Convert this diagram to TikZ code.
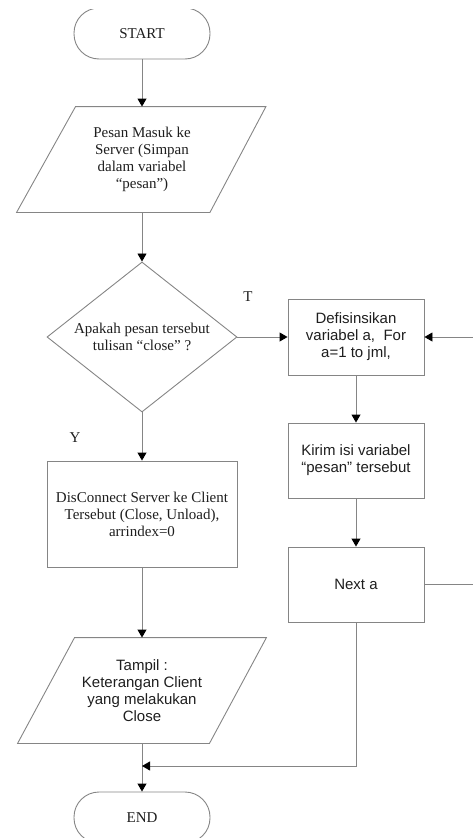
\documentclass[tikz,border=0pt]{standalone}
\usepackage{fontspec}
\setmainfont{Liberation Serif}
\newfontfamily\sansfam{Liberation Sans}
\usetikzlibrary{shapes.geometric,arrows.meta,calc}
\definecolor{edge}{HTML}{858585}
\definecolor{ink}{HTML}{1E1E1E}
\begin{document}
\begin{tikzpicture}[x=1pt,y=-1pt,
  base/.style={draw=edge, line width=0.9pt, text=ink, align=center, inner sep=0pt,
               font=\fontsize{15}{17}\selectfont},
  sanstxt/.style={font=\sansfam\fontsize{15}{17}\selectfont},
  term/.style={base, rectangle, rounded corners=25pt, minimum width=136pt, minimum height=51pt},
  proc/.style={base, rectangle, minimum width=136pt, minimum height=75pt},
  decision/.style={base, diamond, aspect=1.27, minimum width=190pt, minimum height=150pt},
  iobox/.style={base, draw=none, rectangle, minimum width=191pt, minimum height=105pt},
  shapeline/.style={draw=edge, line width=0.9pt},
  flow/.style={draw=edge, line width=0.9pt, -{Triangle[length=8pt,width=9pt,color=black]}},
  lbl/.style={text=ink, font=\fontsize{15}{17}\selectfont, inner sep=0pt}
]
\useasboundingbox (0,0) rectangle (473,838);
\begin{scope}
\clip (0,9.5) rectangle (473,838);

% terminals
\node[term] (start) at (142,33.5) {START};
\node[term] (end) at (142,817.5) {END};

% input: incoming message
\node[iobox] (in) at (142,159.5) {Pesan Masuk ke\\Server (Simpan\\dalam variabel\\“pesan”)};
\draw[shapeline] ($(in.north west)+(29.5,0)$) -- ($(in.north east)+(28,0)$)
  -- ($(in.south east)-(28,0)$) -- ($(in.south west)-(29.5,0)$) -- cycle;

% decision
\node[decision] (dec) at (142,337) {Apakah pesan tersebut\\tulisan “close” ?};

% close branch
\node[proc, minimum width=190pt, minimum height=106pt] (disc) at (142,514)
  {DisConnect Server ke Client\\Tersebut (Close, Unload),\\arrindex=0};
\node[iobox, sanstxt] (out) at (142,690.5) {Tampil :\\Keterangan Client\\yang melakukan\\Close};
\draw[shapeline] ($(out.north west)+(28.5,0)$) -- ($(out.north east)+(28.5,0)$)
  -- ($(out.south east)-(28.5,0)$) -- ($(out.south west)-(28.5,0)$) -- cycle;

% loop branch
\node[proc, sanstxt, minimum height=76pt] (def) at (356,337) {Defisinsikan\\variabel a,\ \ For\\a=1 to jml,};
\node[proc, sanstxt] (send) at (356,460.5) {Kirim isi variabel\\“pesan” tersebut};
\node[proc, sanstxt] (next) at (356,584.5) {Next a};

% branch labels
\node[lbl] (tlab) at (248,297) {T};
\node[lbl] (ylab) at (75,438) {Y};

\coordinate (merge) at (142,766);

% connectors
\draw[flow] (start) -- (in);
\draw[flow] (in) -- (dec);
\draw[flow] (dec.east) -- (def.west);
\draw[flow] (dec.south) -- (disc.north);
\draw[flow] (disc) -- (out);
\draw[flow] (out.south) -- (end.north);
\draw[flow] (def) -- (send);
\draw[flow] (send) -- (next);
\draw[flow] (next.east) -- ++(60,0) |- (def.east);
\draw[flow] (next.south) |- (merge);
\end{scope}
\end{tikzpicture}
\end{document}
